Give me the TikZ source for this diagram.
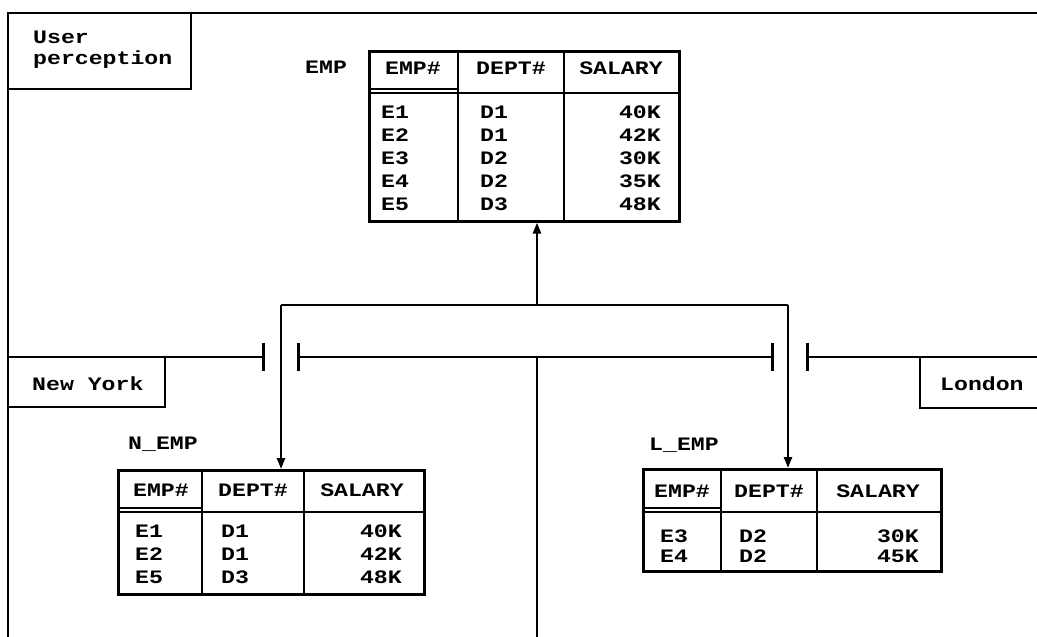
\documentclass[tikz,border=0pt]{standalone}
\usepackage{fontspec}
\setmonofont{Liberation Mono}[FakeStretch=1.22]
\usetikzlibrary{arrows.meta,positioning}

\tikzset{
  line/.style={line width=2.6pt},
  tbl/.style={draw,line width=2.6pt,inner sep=0pt,anchor=north west},
  txt/.style={font=\ttfamily\bfseries\fontsize{19}{21}\selectfont,inner sep=0pt},
  arr/.style={line width=2.4pt,-{Triangle[length=11pt,width=8pt]}},
  cut/.style={line width=2.6pt},
}

\begin{document}
\begin{tikzpicture}[x=1pt,y=-1pt]
  \useasboundingbox (0,0) rectangle (1037,637);
  % Frame and site boxes
  \draw[line] (8,637) -- (8,13) -- (1037,13);
  \draw[line] (8,13) rectangle (191,89);
  \node[txt,anchor=base west,align=left] (user) at (33,64) {User\\perception};
  \draw[line] (8,357) rectangle (165,407);
  \node[txt,anchor=base west] (newyork) at (32,390) {New York};
  \draw[line] (1037,408) -- (920,408) -- (920,357);
  \node[txt,anchor=base west] (london) at (940,390) {London};
  % Split line between the sites
  \draw[cut,-{Bar[width=28pt]}] (8,357) -- (265,357);
  \draw[cut,{Bar[width=28pt]}-{Bar[width=28pt]}] (297,357) -- (774,357);
  \draw[cut,{Bar[width=28pt]}-] (806,357) -- (1037,357);
  \draw[line] (537,357) -- (537,637);

  % EMP
  \node[txt,anchor=base west] (empname) at (305,73) {EMP};
  \node[tbl,minimum width=310pt,minimum height=170pt] (emp) at (368,50) {};
  \draw[line] (368,93) -- (678,93);
  \draw[line] (368,89) -- (458,89);
  \draw[line] (458,50) -- (458,220);
  \draw[line] (564,50) -- (564,220);
  \node[txt,anchor=base] (empH1) at (413,74) {EMP\#};
  \node[txt,anchor=base] (empH2) at (511,74) {DEPT\#};
  \node[txt,anchor=base] (empH3) at (621,74) {SALARY};
  \foreach \e/\d/\s [count=\i] in {E1/D1/40K,E2/D1/42K,E3/D2/30K,E4/D2/35K,E5/D3/48K} {
    \node[txt,anchor=base west] (empE\i) at (381,{95+23*\i}) {\e};
    \node[txt,anchor=base west] (empD\i) at (480,{95+23*\i}) {\d};
    \node[txt,anchor=base east] (empS\i) at (661,{95+23*\i}) {\s};
  }

  % N_EMP
  \node[txt,anchor=base west] (nempname) at (128,449) {N\_EMP};
  \node[tbl,minimum width=306pt,minimum height=124pt] (nemp) at (117,469) {};
  \draw[line] (117,512) -- (423,512);
  \draw[line] (117,508) -- (202,508);
  \draw[line] (202,469) -- (202,593);
  \draw[line] (304,469) -- (304,593);
  \node[txt,anchor=base] (nempH1) at (161,496) {EMP\#};
  \node[txt,anchor=base] (nempH2) at (253,496) {DEPT\#};
  \node[txt,anchor=base] (nempH3) at (362,496) {SALARY};
  \foreach \e/\d/\s [count=\i] in {E1/D1/40K,E2/D1/42K,E5/D3/48K} {
    \node[txt,anchor=base west] (nempE\i) at (135,{514+23*\i}) {\e};
    \node[txt,anchor=base west] (nempD\i) at (221,{514+23*\i}) {\d};
    \node[txt,anchor=base east] (nempS\i) at (402,{514+23*\i}) {\s};
  }

  % L_EMP
  \node[txt,anchor=base west] (lempname) at (649,450) {L\_EMP};
  \node[tbl,minimum width=298pt,minimum height=102pt] (lemp) at (642,468) {};
  \draw[line] (642,512) -- (940,512);
  \draw[line] (642,508) -- (721,508);
  \draw[line] (721,468) -- (721,570);
  \draw[line] (817,468) -- (817,570);
  \node[txt,anchor=base] (lempH1) at (682,497) {EMP\#};
  \node[txt,anchor=base] (lempH2) at (769,497) {DEPT\#};
  \node[txt,anchor=base] (lempH3) at (878,497) {SALARY};
  \foreach \e/\d/\s [count=\i] in {E3/D2/30K,E4/D2/45K} {
    \node[txt,anchor=base west] (lempE\i) at (660,{522+20*\i}) {\e};
    \node[txt,anchor=base west] (lempD\i) at (739,{522+20*\i}) {\d};
    \node[txt,anchor=base east] (lempS\i) at (919,{522+20*\i}) {\s};
  }

  % Connectors
  \coordinate (split) at (537,305);
  \coordinate (nyturn) at (281,305);
  \coordinate (ldturn) at (788,305);
  \draw[line] (nyturn) -- (ldturn);
  \draw[arr] (split) -- (split |- emp.south);
  \draw[arr] (nyturn) -- (nyturn |- nemp.north);
  \draw[arr] (ldturn) -- (ldturn |- lemp.north);
\end{tikzpicture}
\end{document}
